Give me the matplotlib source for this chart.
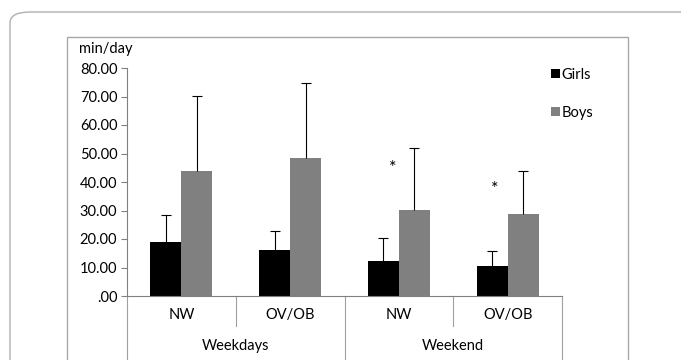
import matplotlib.pyplot as plt
import numpy as np
from matplotlib.patches import FancyBboxPatch, Rectangle

plt.rcParams['font.family'] = ['Lato', 'DejaVu Sans']

groups = ["Weekdays", "Weekend"]
categories = ["NW", "OV/OB", "NW", "OV/OB"]
girls = [18.8, 16.3, 12.3, 10.5]
boys = [43.8, 48.3, 30.2, 28.9]
girls_sd = [9.6, 6.4, 8.1, 5.4]
boys_sd = [26.5, 26.5, 21.8, 14.9]
star_x = [1.94, 2.88]
star_y = [45.0, 37.7]
yticks = [0, 10, 20, 30, 40, 50, 60, 70, 80]

fs = 10.5
fig = plt.figure(figsize=(6.81, 3.6), dpi=100)

# outer rounded panel and inner chart frame
fig.patches.append(FancyBboxPatch((10 / 681, -0.2), 1.2, 1.2 - 12 / 360,
                                  boxstyle="round,pad=0,rounding_size=0.03",
                                  transform=fig.transFigure, fill=False,
                                  edgecolor="#b0b0b0", linewidth=1.0))
fig.patches.append(Rectangle((67 / 681, -0.1), (628 - 67) / 681, 1.1 - 37 / 360,
                             transform=fig.transFigure, fill=False,
                             edgecolor="#a8a8a8", linewidth=1.0))

ax = fig.add_axes([127 / 681, 64 / 360, 435 / 681, 228 / 360])
x = np.arange(len(categories))
w = 0.285
ax.bar(x - w / 2, girls, w, color="black", label="Girls")
ax.bar(x + w / 2, boys, w, color="#808080", label="Boys")

# upper error bars only
for xs, vals, sds in [(x - w / 2, girls, girls_sd), (x + w / 2, boys, boys_sd)]:
    tops = np.array(vals) + np.array(sds)
    ax.vlines(xs, vals, tops, color="black", lw=0.8)
    ax.plot(xs, tops, ls="none", marker="_", markersize=7, mew=0.8, color="black")

for sx, sy in zip(star_x, star_y):
    ax.text(sx, sy, "*", ha="center", va="center", fontsize=13)

ax.set_xlim(-0.5, 3.5)
ax.set_ylim(0, 80)
ax.set_yticks(yticks)
ax.set_yticklabels([".00" if v == 0 else "%.2f" % v for v in yticks], fontsize=fs)
ax.tick_params(axis="y", length=4, color="#808080", pad=3)
ax.set_xticks([])
for s in ["top", "right"]:
    ax.spines[s].set_visible(False)
ax.spines["left"].set_color("#808080")
ax.spines["bottom"].set_color("#808080")

# category axis dividers and labels
tr = ax.get_xaxis_transform()
for b in [-0.5, 0.5, 1.5, 2.5, 3.5]:
    low = -0.13 if b in (0.5, 2.5) else -0.5
    ax.plot([b, b], [0, low], transform=tr, color="#a0a0a0", lw=0.8, clip_on=False)
for i, c in enumerate(categories):
    ax.text(i, -0.085, c, transform=tr, ha="center", va="center", fontsize=fs)
for j, g in enumerate(groups):
    ax.text(2 * j + 0.5, -0.22, g, transform=tr, ha="center", va="center", fontsize=fs)

fig.text(79 / 681, 1 - 49 / 360, "min/day", fontsize=fs, va="center", ha="left")

leg = fig.legend(loc="upper left", bbox_to_anchor=(545 / 681, 1 - 62 / 360),
                 frameon=False, fontsize=fs, handlelength=0.6, handleheight=0.6,
                 handletextpad=0.15, labelspacing=1.65, borderaxespad=0)

fig.savefig("out.png", dpi=100)
